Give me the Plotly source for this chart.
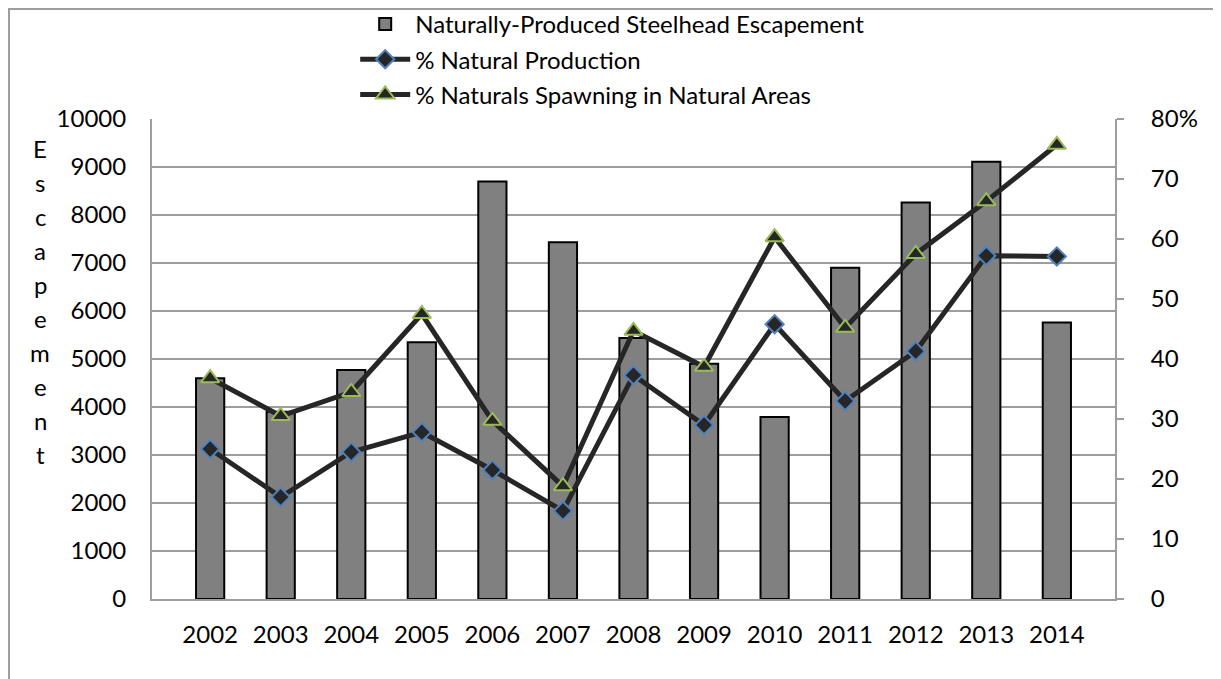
import plotly.graph_objects as go

years = ["2002", "2003", "2004", "2005", "2006", "2007", "2008",
         "2009", "2010", "2011", "2012", "2013", "2014"]
escapement = [4600, 3900, 4770, 5350, 8700, 7430, 5440,
              4900, 3790, 6900, 8260, 9110, 5760]
pct_natural_production = [25.0, 17.0, 24.5, 27.8, 21.5, 14.7, 37.3,
                          29.0, 45.8, 33.0, 41.3, 57.2, 57.1]
pct_spawning_natural = [36.8, 30.5, 34.5, 47.5, 29.7, 18.8, 44.7,
                        38.7, 60.3, 45.2, 57.5, 66.3, 75.7]
right_ticks = [0, 10, 20, 30, 40, 50, 60, 70, 80]
right_ticktext = ["0", "10", "20", "30", "40", "50", "60", "70", "80%"]
y_title = "Escapement"

FONT = "Lato"
FS = 24
TXT = "#000000"
LINE = "#262626"
GRID = "#9d9d9d"

fig = go.Figure()
fig.add_bar(
    x=years, y=escapement, name="Naturally-Produced Steelhead Escapement",
    marker=dict(color="#808080", line=dict(color="#000000", width=2)),
    legendgroup="a",
)
fig.add_scatter(
    x=years, y=pct_natural_production, name="% Natural Production",
    yaxis="y2", mode="lines+markers",
    line=dict(color=LINE, width=5),
    marker=dict(symbol="diamond", size=14, color=LINE, line=dict(color="#4F81BD", width=2)),
    legendgroup="b",
)
fig.add_scatter(
    x=years, y=pct_spawning_natural, name="% Naturals Spawning in Natural Areas",
    yaxis="y2", mode="lines+markers",
    line=dict(color=LINE, width=5),
    marker=dict(symbol="triangle-up", size=16, color=LINE, line=dict(color="#9BBB59", width=2)),
    legendgroup="c",
)

# vertical stacked-letter axis title, one letter per line
letters = [
    dict(text=ch, xref="paper", yref="paper", x=-0.1163, y=(591 - 140 - i * 34.1) / 480,
         xanchor="center", yanchor="middle", showarrow=False,
         font=dict(family=FONT, size=FS, color=TXT))
    for i, ch in enumerate(y_title)
]

# page body adds 8px offset, so the figure is sized to fit the window
fig.update_layout(
    width=1213, height=671,
    margin=dict(l=144, r=106, t=111, b=80, autoexpand=False),
    paper_bgcolor="white", plot_bgcolor="white",
    font=dict(family=FONT, size=FS, color=TXT),
    bargap=0.6,
    showlegend=True,
    legend=dict(
        x=0.211, y=1.244, xanchor="left", yanchor="top",
        traceorder="grouped", tracegroupgap=1,
        font=dict(family=FONT, size=FS, color=TXT),
        bgcolor="rgba(0,0,0,0)", itemwidth=50,
    ),
    xaxis=dict(
        showgrid=False, showline=True, linecolor=GRID, linewidth=2,
        ticks="", tickfont=dict(size=FS), ticklabelstandoff=13,
    ),
    yaxis=dict(
        range=[0, 10000], dtick=1000, tickformat="d", showgrid=True,
        gridcolor=GRID, gridwidth=2,
        showline=True, linecolor=GRID, linewidth=2, ticks="",
        tickfont=dict(size=FS), zeroline=False, ticklabelstandoff=19,
    ),
    yaxis2=dict(
        range=[0, 80], overlaying="y", side="right", showgrid=False,
        tickvals=right_ticks, ticktext=right_ticktext,
        showline=True, linecolor=GRID, linewidth=2,
        ticks="outside", ticklen=7, tickcolor=GRID, tickwidth=2,
        tickfont=dict(size=FS), zeroline=False, ticklabelstandoff=22,
    ),
    annotations=letters,
    shapes=[
        # outer chart frame: only the left and top edges fall inside the window
        dict(type="path", xref="paper", yref="paper",
             path="M -0.1485,-0.3 L -0.1485,1.229 L 1.3,1.229",
             line=dict(color="#9d9d9d", width=2), layer="below")
    ],
)

fig.write_html("out.html")
